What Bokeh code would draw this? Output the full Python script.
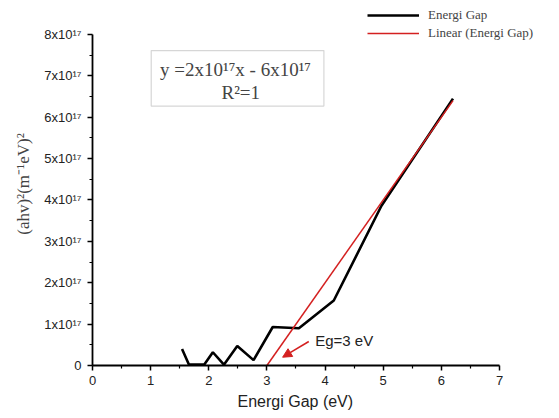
from bokeh.plotting import figure
from bokeh.models import (FixedTicker, Label, Legend, LegendItem, Arrow, NormalHead,
                          BoxAnnotation, Range1d, Title)
from bokeh.embed import file_html
from bokeh.resources import INLINE

# Data (y in units of 1e17)
energy_gap_x = [1.54, 1.66, 1.92, 2.07, 2.26, 2.49, 2.77, 3.10, 3.55, 4.15, 4.97, 6.20]
energy_gap_y = [0.40, 0.02, 0.02, 0.32, 0.02, 0.47, 0.13, 0.93, 0.90, 1.57, 3.86, 6.45]
linear_x = [3.0, 6.2]
linear_y = [0.0, 6.4]
x_ticks = [0, 1, 2, 3, 4, 5, 6, 7]
y_ticks = [0, 1, 2, 3, 4, 5, 6, 7, 8]
y_tick_labels = ["0", "1x10¹⁷", "2x10¹⁷", "3x10¹⁷", "4x10¹⁷", "5x10¹⁷", "6x10¹⁷", "7x10¹⁷", "8x10¹⁷"]

p = figure(width=559, height=418, output_backend="svg", toolbar_location=None,
           x_range=Range1d(0, 8.032), y_range=Range1d(0, 8.773),
           min_border_left=92, min_border_right=0, min_border_top=2, min_border_bottom=53)
p.outline_line_color = None
p.grid.grid_line_color = None

for ax in (p.xaxis, p.yaxis):
    ax.axis_line_width = 1.8
    ax.axis_line_color = "black"
    ax.major_tick_line_color = "black"
    ax.minor_tick_line_color = "black"
    ax.major_tick_line_width = 1.5
    ax.minor_tick_line_width = 1.2
    ax.major_tick_in = 0
    ax.major_tick_out = 5
    ax.minor_tick_in = 0
    ax.minor_tick_out = 3
    ax.major_label_text_font = "Liberation Sans"
    ax.major_label_text_font_size = "13px"
    ax.major_label_text_color = "#222222"

p.xaxis.bounds = (0, 7)
p.yaxis.bounds = (0, 8)
p.xaxis.ticker = FixedTicker(ticks=x_ticks, minor_ticks=[v + 0.5 for v in x_ticks[:-1]])
p.yaxis.ticker = FixedTicker(ticks=y_ticks, minor_ticks=[v + 0.5 for v in y_ticks[:-1]])
p.yaxis.major_label_overrides = {t: l for t, l in zip(y_ticks, y_tick_labels)}
p.xaxis.major_label_standoff = 5
p.yaxis.major_label_standoff = 6

# x-axis title placed under the 0..7 span of the axis
p.add_layout(Title(text="Energi Gap (eV)", align="left", offset=145, standoff=6,
                   text_font="Liberation Sans", text_font_style="normal",
                   text_font_size="16px", text_color="#222222"), "below")

p.yaxis.axis_label = "(ahv)²(m⁻¹eV)²"
p.yaxis.axis_label_text_font = "Liberation Serif"
p.yaxis.axis_label_text_font_style = "normal"
p.yaxis.axis_label_text_font_size = "17px"
p.yaxis.axis_label_standoff = 8

r1 = p.line(energy_gap_x, energy_gap_y, line_color="black", line_width=2.6)
r2 = p.line(linear_x, linear_y, line_color="#d42020", line_width=1.5)

legend = Legend(items=[LegendItem(label="Energi Gap", renderers=[r1]),
                       LegendItem(label="Linear (Energi Gap)", renderers=[r2])],
                location=(275, 324), padding=0, margin=0, spacing=2,
                glyph_width=52, glyph_height=16, label_height=16, label_standoff=9,
                border_line_color=None, background_fill_alpha=0,
                label_text_font="Liberation Serif", label_text_font_size="13px")
p.add_layout(legend, "center")

box = BoxAnnotation(left=1.01, right=3.98, top=7.61, bottom=6.27,
                    fill_color="white", fill_alpha=1, line_color="#777777", line_width=1.2)
p.add_layout(box)
p.add_layout(Label(x=2.46, y=7.16, text="y =2x10¹⁷x - 6x10¹⁷", text_align="center",
                   text_baseline="middle", text_font="Liberation Serif", text_font_size="19px"))
p.add_layout(Label(x=2.55, y=6.60, text="R²=1", text_align="center",
                   text_baseline="middle", text_font="Liberation Serif", text_font_size="19px"))

p.add_layout(Arrow(x_start=3.72, y_start=0.58, x_end=3.27, y_end=0.20,
                   line_color="#d42020", line_width=1.5,
                   end=NormalHead(size=9, fill_color="#d42020", line_color="#d42020")))
p.add_layout(Label(x=3.83, y=0.60, text="Eg=3 eV", text_baseline="middle",
                   text_font="Liberation Sans", text_font_size="15px", text_color="#222222"))

open("out.html", "w").write(file_html(p, INLINE))
